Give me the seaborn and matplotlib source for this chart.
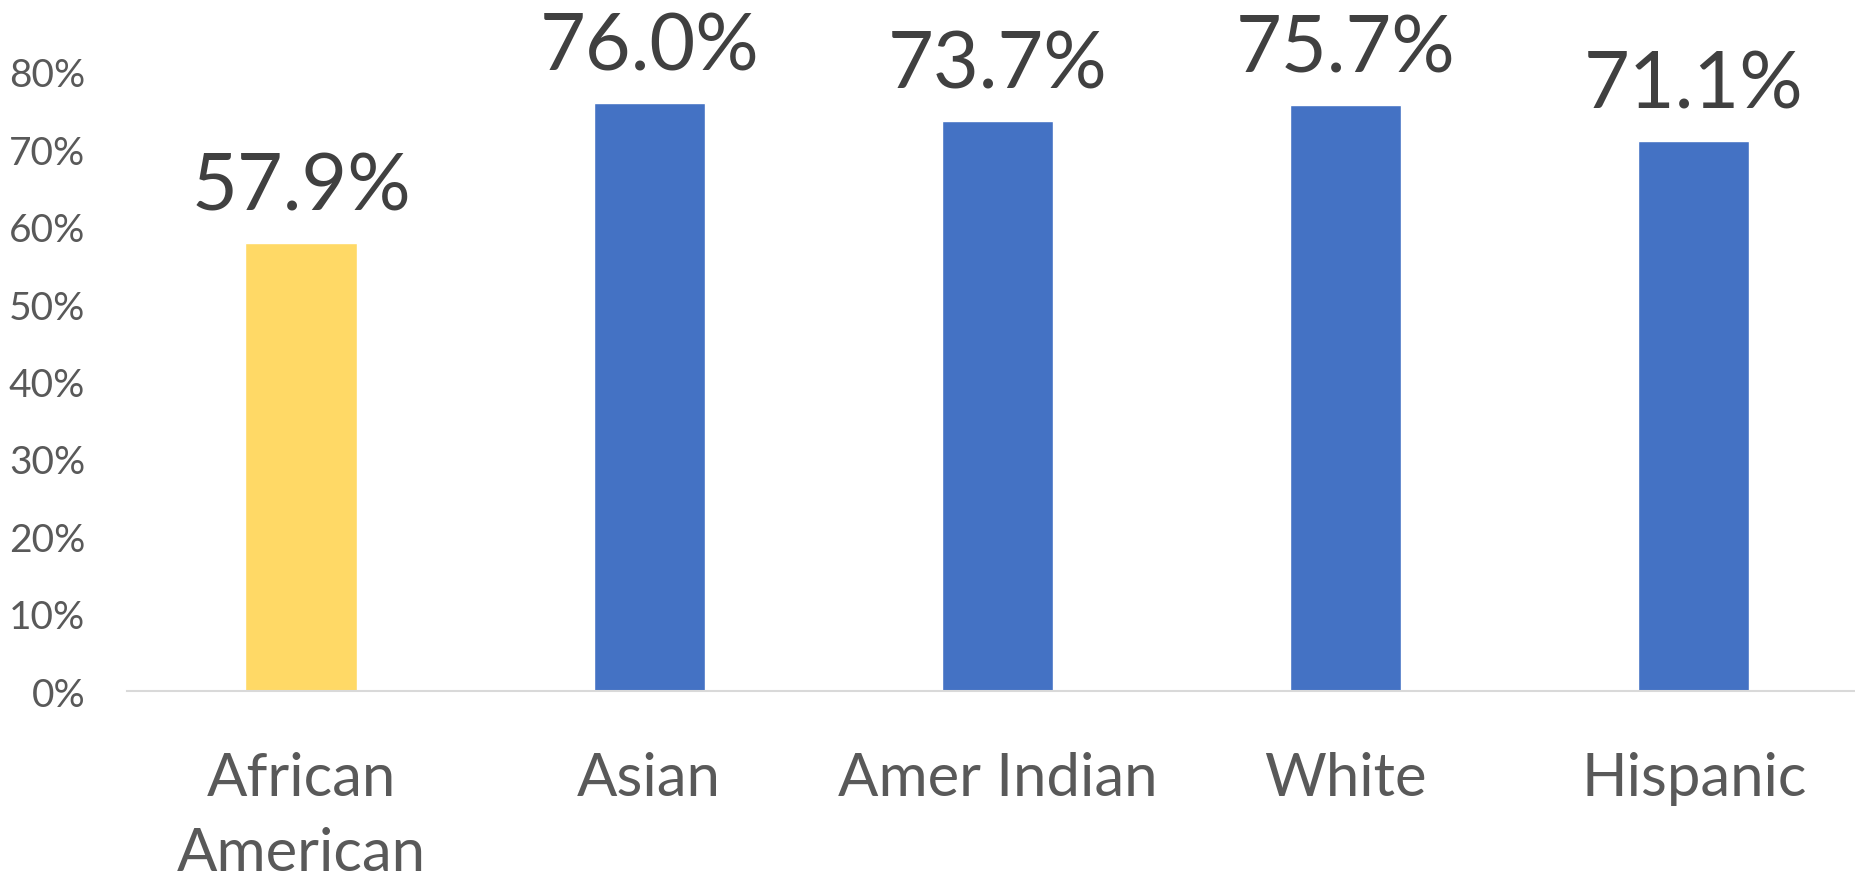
import matplotlib
matplotlib.use("Agg")
import matplotlib.pyplot as plt
import pandas as pd
import seaborn as sns
from matplotlib.ticker import PercentFormatter

sns.set_theme(style="white")
plt.rcParams["font.family"] = ["Lato", "DejaVu Sans"]

categories = ["African\nAmerican", "Asian", "Amer Indian", "White", "Hispanic"]
rates = [0.579, 0.760, 0.737, 0.757, 0.711]
bar_colors = ["#FFD966", "#4472C4", "#4472C4", "#4472C4", "#4472C4"]
y_ticks = [0.0, 0.1, 0.2, 0.3, 0.4, 0.5, 0.6, 0.7, 0.8]

df = pd.DataFrame({"group": categories, "rate": rates})

fig = plt.figure(figsize=(18.56, 8.78), dpi=100)
ax = fig.add_axes([0.0684, 0.2118, 0.938, 0.7051])

sns.barplot(
    data=df, x="group", y="rate", hue="group",
    palette=bar_colors, width=0.32, legend=False, ax=ax, saturation=1,
)

ax.set_ylim(0, 0.8)
ax.set_xlim(-0.5, len(categories) - 0.5)
ax.set_yticks(y_ticks)
ax.yaxis.set_major_formatter(PercentFormatter(1.0, decimals=0))
ax.set_xlabel("")
ax.set_ylabel("")

for s in ["top", "right", "left"]:
    ax.spines[s].set_visible(False)
ax.spines["bottom"].set_color("#D9D9D9")
ax.spines["bottom"].set_linewidth(1.5)

ax.tick_params(axis="y", length=0, pad=30, labelsize=28, labelcolor="#595959")
ax.tick_params(axis="x", length=0, pad=43, labelsize=43, labelcolor="#595959")
for lab in ax.get_xticklabels():
    lab.set_linespacing(1.48)

for i, v in enumerate(rates):
    ax.annotate(
        f"{v * 100:.1f}%", (i, v), xytext=(0, 24), textcoords="offset points",
        ha="center", va="baseline", fontsize=57, color="#404040",
        annotation_clip=False,
    )

fig.savefig("out.png", dpi=100)
